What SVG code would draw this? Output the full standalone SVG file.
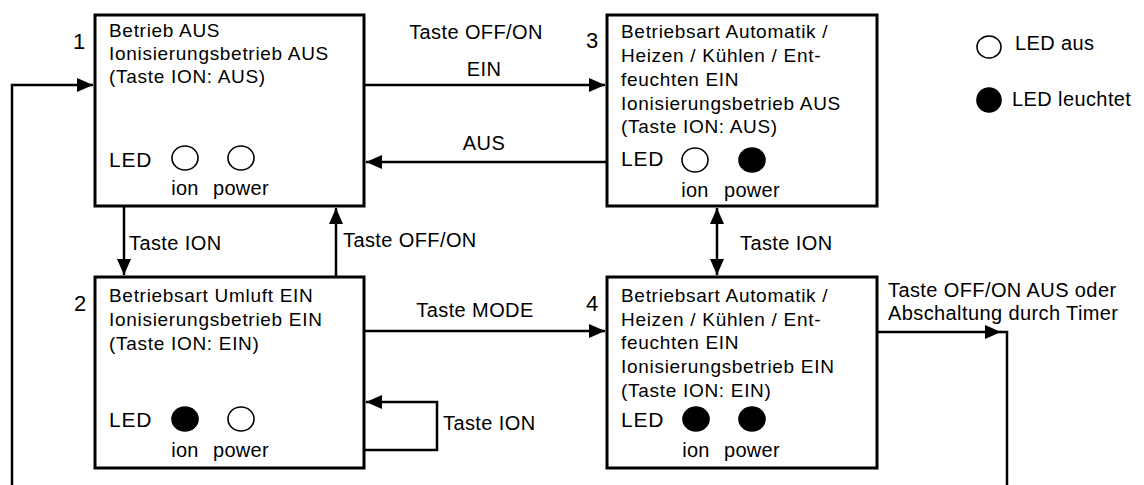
<svg xmlns="http://www.w3.org/2000/svg" width="1144" height="485" viewBox="0 0 1144 485">
<style>
.box{fill:#fff;stroke:#000;stroke-width:3}
.t{font-family:"Liberation Sans",Arial,sans-serif;font-size:19px;letter-spacing:0.7px;fill:#000}
.lbl{font-family:"Liberation Sans",Arial,sans-serif;font-size:20px;letter-spacing:0.4px;fill:#000}
.led{font-family:"Liberation Sans",Arial,sans-serif;font-size:21px;letter-spacing:0.8px;fill:#000}
.sub{font-family:"Liberation Sans",Arial,sans-serif;font-size:20px;letter-spacing:0.3px;fill:#000;text-anchor:middle}
.num{font-family:"Liberation Sans",Arial,sans-serif;font-size:22px;fill:#000;text-anchor:middle}
.off{fill:#fff;stroke:#000;stroke-width:1.6}
.on{fill:#000;stroke:#000;stroke-width:1.6}
.c{fill:none;stroke:#000;stroke-width:2.5}
</style>
<defs>
<marker id="ah" markerWidth="16" markerHeight="14" refX="16" refY="7" orient="auto" markerUnits="userSpaceOnUse">
<path d="M0,0 L16,7 L0,14 Z" fill="#000"/>
</marker>
<marker id="as" markerWidth="16" markerHeight="14" refX="0" refY="7" orient="auto" markerUnits="userSpaceOnUse">
<path d="M16,0 L0,7 L16,14 Z" fill="#000"/>
</marker>
</defs>

<g id="connectors">
<path class="c" d="M364,85 H605" marker-end="url(#ah)"/>
<path class="c" d="M607,162 H366" marker-end="url(#ah)"/>
<path class="c" d="M124,206 V275" marker-end="url(#ah)"/>
<path class="c" d="M336,277 V208" marker-end="url(#ah)"/>
<path class="c" d="M364,331 H605" marker-end="url(#ah)"/>
<path class="c" d="M364,450 H437 V402 H366" marker-end="url(#ah)"/>
<path class="c" d="M717,208 V275" marker-start="url(#as)" marker-end="url(#ah)"/>
<path class="c" d="M877,332 H1001" marker-end="url(#ah)"/>
<path class="c" d="M1000,332 H1007 V485"/>
<path class="c" d="M12,485 V85 H93" marker-end="url(#ah)"/>
<text class="lbl" x="476" y="39" text-anchor="middle">Taste OFF/ON</text>
<text class="lbl" x="484" y="76" text-anchor="middle">EIN</text>
<text class="lbl" x="484" y="150" text-anchor="middle">AUS</text>
<text class="lbl" x="129" y="250">Taste ION</text>
<text class="lbl" x="343" y="247">Taste OFF/ON</text>
<text class="lbl" x="475" y="317" text-anchor="middle">Taste MODE</text>
<text class="lbl" x="443" y="430">Taste ION</text>
<text class="lbl" x="740" y="250">Taste ION</text>
<text class="lbl" x="888" y="297">Taste OFF/ON AUS oder</text>
<text class="lbl" x="888" y="320">Abschaltung durch Timer</text>
</g>

<g id="node1">
<rect class="box" x="95" y="15" width="269" height="191"/>
<text class="num" x="79" y="49">1</text>
<text class="t" x="109" y="37">Betrieb AUS</text>
<text class="t" x="109" y="60">Ionisierungsbetrieb AUS</text>
<text class="t" x="109" y="83">(Taste ION: AUS)</text>
<text class="led" x="109" y="167">LED</text>
<ellipse class="off" cx="185" cy="158" rx="13" ry="12"/>
<ellipse class="off" cx="241" cy="158" rx="13" ry="12"/>
<text class="sub" x="185" y="195">ion</text>
<text class="sub" x="241" y="195">power</text>
</g>

<g id="node2">
<rect class="box" x="95" y="277" width="269" height="191"/>
<text class="num" x="80" y="311">2</text>
<text class="t" x="109" y="302">Betriebsart Umluft EIN</text>
<text class="t" x="109" y="326">Ionisierungsbetrieb EIN</text>
<text class="t" x="109" y="350">(Taste ION: EIN)</text>
<text class="led" x="109" y="427">LED</text>
<ellipse class="on" cx="185" cy="419" rx="13" ry="12"/>
<ellipse class="off" cx="241" cy="419" rx="13" ry="12"/>
<text class="sub" x="185" y="457">ion</text>
<text class="sub" x="241" y="457">power</text>
</g>

<g id="node3">
<rect class="box" x="607" y="15" width="270" height="191"/>
<text class="num" x="592" y="48">3</text>
<text class="t" x="621" y="38">Betriebsart Automatik /</text>
<text class="t" x="621" y="62">Heizen / Kühlen / Ent-</text>
<text class="t" x="621" y="86">feuchten EIN</text>
<text class="t" x="621" y="110">Ionisierungsbetrieb AUS</text>
<text class="t" x="621" y="133">(Taste ION: AUS)</text>
<text class="led" x="621" y="166">LED</text>
<ellipse class="off" cx="695" cy="160" rx="13" ry="12"/>
<ellipse class="on" cx="752" cy="160" rx="13" ry="12"/>
<text class="sub" x="695" y="197">ion</text>
<text class="sub" x="752" y="197">power</text>
</g>

<g id="node4">
<rect class="box" x="607" y="277" width="270" height="191"/>
<text class="num" x="592" y="311">4</text>
<text class="t" x="621" y="302">Betriebsart Automatik /</text>
<text class="t" x="621" y="326">Heizen / Kühlen / Ent-</text>
<text class="t" x="621" y="349">feuchten EIN</text>
<text class="t" x="621" y="373">Ionisierungsbetrieb EIN</text>
<text class="t" x="621" y="397">(Taste ION: EIN)</text>
<text class="led" x="621" y="427">LED</text>
<ellipse class="on" cx="696" cy="419" rx="13" ry="12"/>
<ellipse class="on" cx="752" cy="419" rx="13" ry="12"/>
<text class="sub" x="696" y="457">ion</text>
<text class="sub" x="752" y="457">power</text>
</g>

<g id="legend">
<ellipse class="off" cx="989" cy="47" rx="12" ry="11"/>
<text class="lbl" x="1015" y="50">LED aus</text>
<ellipse class="on" cx="989" cy="100" rx="12" ry="12"/>
<text class="lbl" x="1012" y="106">LED leuchtet</text>
</g>
</svg>
